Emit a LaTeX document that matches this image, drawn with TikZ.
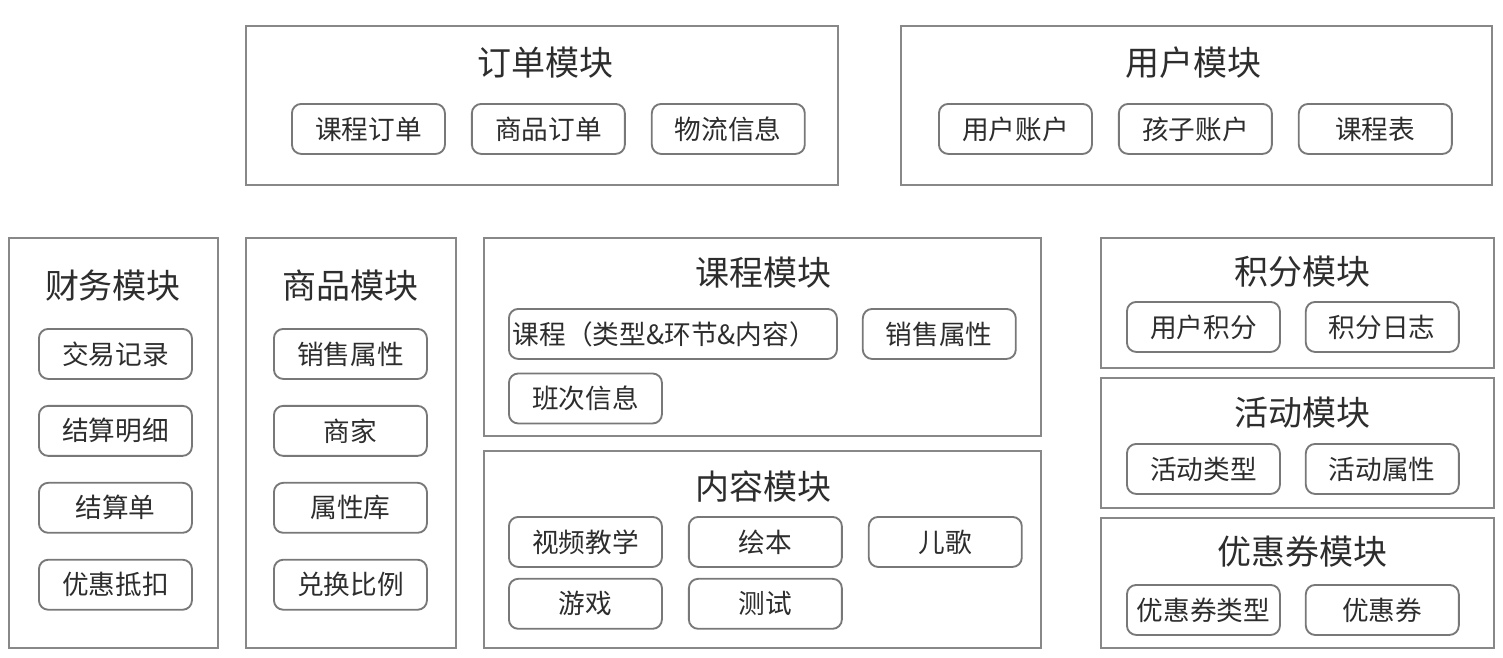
\documentclass[tikz,border=0pt]{standalone}
\usepackage{fontspec}
\setmainfont{Noto Sans CJK SC}
\usetikzlibrary{positioning, fit}
\definecolor{colFrame}{RGB}{136,136,136}
\definecolor{colItem}{RGB}{120,120,120}
\definecolor{colText}{RGB}{45,45,45}

\begin{document}
\begin{tikzpicture}[
  x=0.75pt, y=-0.75pt,
  node distance=18.8pt,
  module/.style={rectangle, draw=colFrame, line width=1.5pt, inner sep=0pt},
  title/.style={text=colText, font=\fontsize{25.5}{30}\selectfont, inner sep=0pt},
  item/.style={rectangle, draw=colItem, line width=1.4pt, rounded corners=7pt,
               minimum width=114.75pt, minimum height=37.5pt, inner sep=0pt,
               text=colText, font=\fontsize{20}{24}\selectfont},
]
\useasboundingbox (0,0) rectangle (1503,657);

% top row
\node[module, fit={(246,26) (838,185)}] (order) {};
\node[title] (orderT) at (545,63) {订单模块};
\node[item, anchor=north west] (ordCourse) at (291,103) {课程订单};
\node[item, right=of ordCourse] (ordGoods) {商品订单};
\node[item, right=of ordGoods] (ordShip) {物流信息};

\node[module, fit={(901,26) (1492,185)}] (user) {};
\node[title] (userT) at (1193,63) {用户模块};
\node[item, anchor=north west] (usrAcc) at (938,103) {用户账户};
\node[item, right=of usrAcc] (usrKid) {孩子账户};
\node[item, right=of usrKid] (usrTable) {课程表};

% finance
\node[module, fit={(9,238) (218,648)}] (fin) {};
\node[title] (finT) at (113,286) {财务模块};
\node[item, anchor=north west] (finTrade) at (38,328) {交易记录};
\node[item, below=of finTrade] (finDetail) {结算明细};
\node[item, below=of finDetail] (finBill) {结算单};
\node[item, below=of finBill] (finDisc) {优惠抵扣};

% goods
\node[module, fit={(246,238) (456,648)}] (goods) {};
\node[title] (goodsT) at (350,286) {商品模块};
\node[item, anchor=north west] (gdSale) at (273,328) {销售属性};
\node[item, below=of gdSale] (gdShop) {商家};
\node[item, below=of gdShop] (gdAttr) {属性库};
\node[item, below=of gdAttr] (gdRate) {兑换比例};

% course
\node[module, fit={(484,238) (1041,436)}] (course) {};
\node[title] (courseT) at (763,273) {课程模块};
\node[item, anchor=north west, minimum width=246pt, text width=240pt, align=left] (crsMain) at (508,308) {课程（类型\&环节\&内容）};
\node[item, right=18pt of crsMain] (crsSale) {销售属性};
\node[item, below=9.5pt of crsMain.south west, anchor=north west] (crsClass) {班次信息};

% content
\node[module, fit={(484,451) (1041,648)}] (content) {};
\node[title] (contentT) at (763,486) {内容模块};
\node[item, anchor=north west] (ctVideo) at (508,516) {视频教学};
\node[item, right=of ctVideo] (ctBook) {绘本};
\node[item, right=of ctBook] (ctSong) {儿歌};
\node[item, below=7.5pt of ctVideo] (ctGame) {游戏};
\node[item, right=of ctGame] (ctTest) {测试};

% points, activity, coupon
\node[module, fit={(1101,238) (1494,368)}] (points) {};
\node[title] (pointsT) at (1302,272) {积分模块};
\node[item, anchor=north west] (ptUser) at (1126,301) {用户积分};
\node[item, right=18pt of ptUser] (ptLog) {积分日志};

\node[module, fit={(1101,378) (1494,508)}] (act) {};
\node[title] (actT) at (1302,413) {活动模块};
\node[item, anchor=north west] (actType) at (1126,443) {活动类型};
\node[item, right=18pt of actType] (actAttr) {活动属性};

\node[module, fit={(1101,518) (1494,648)}] (coupon) {};
\node[title] (couponT) at (1302,552) {优惠券模块};
\node[item, anchor=north west] (cpType) at (1126,584) {优惠券类型};
\node[item, right=18pt of cpType] (cpItem) {优惠券};
\end{tikzpicture}
\end{document}
